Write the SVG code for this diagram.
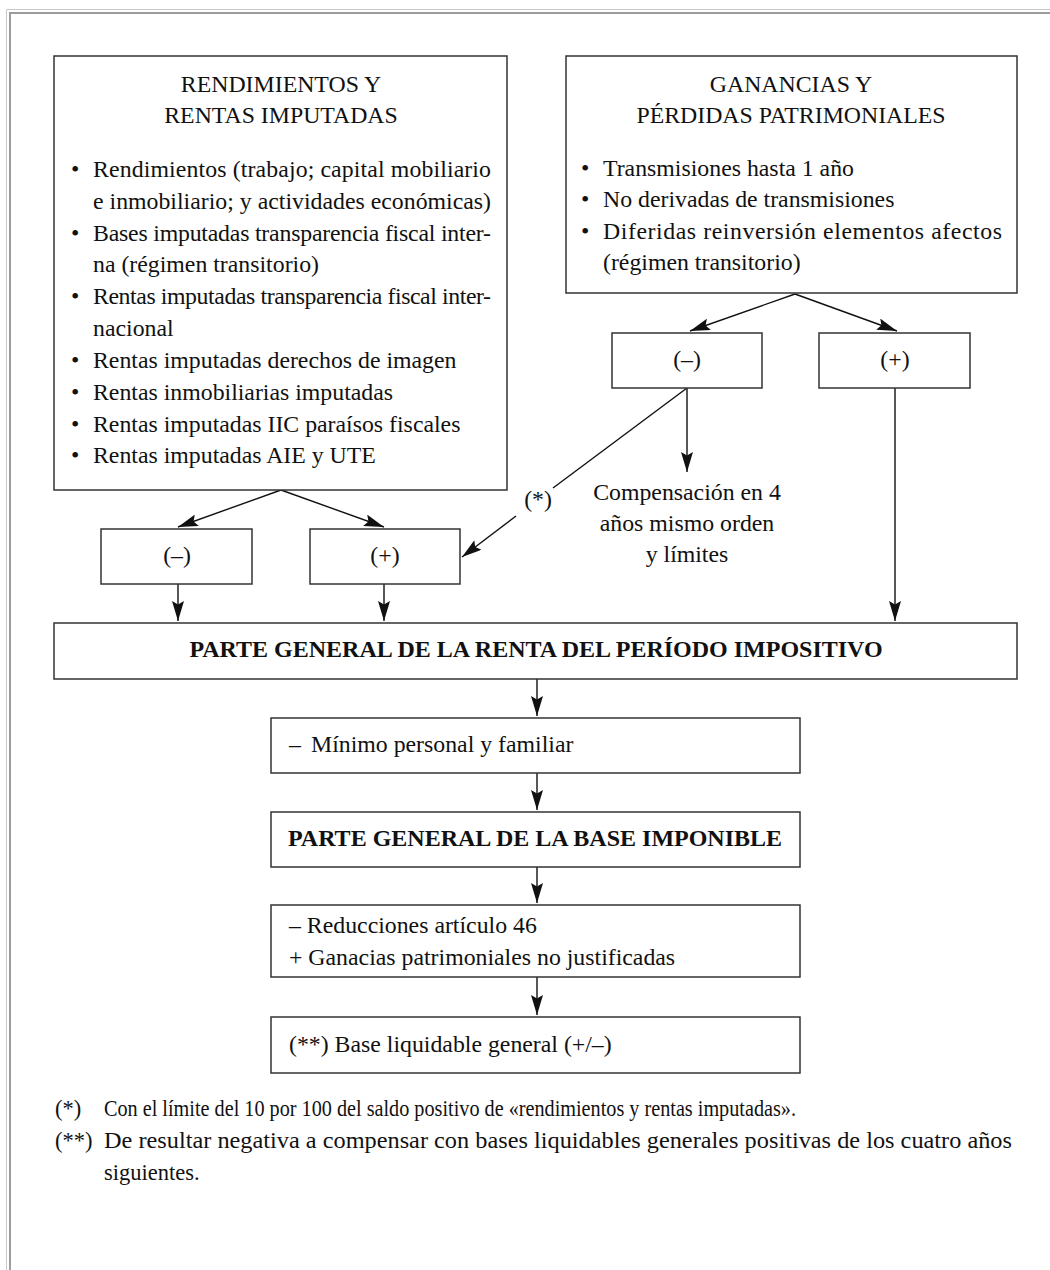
<svg xmlns="http://www.w3.org/2000/svg" width="1050" height="1270" viewBox="0 0 1050 1270">
<defs>
<style>
text{font-family:"Liberation Serif","Times New Roman",serif;font-size:23.8px;fill:#111}
.c{text-anchor:middle}
.b{font-weight:bold;font-size:24px}
.fn{font-size:22.5px}
.box{fill:#fff;stroke:#333;stroke-width:1.5}
.ln{stroke:#111;stroke-width:1.4;fill:none}
.ar{stroke:#111;stroke-width:1.4;fill:none;marker-end:url(#ah)}
</style>
<marker id="ah" viewBox="0 0 20 12" refX="20" refY="6" markerWidth="20" markerHeight="12" orient="auto" markerUnits="userSpaceOnUse">
<path d="M0,0 L20,6 L0,12 L3.5,6 Z" fill="#111"/>
</marker>
</defs>
<rect width="1050" height="1270" fill="#fff"/>
<g id="frame">
<path d="M6.5,1270 V9.5 H1050" fill="none" stroke="#c8c8c8" stroke-width="1"/>
<path d="M10,1270 V13 H1050" fill="none" stroke="#9c9c9c" stroke-width="2"/>
</g>
<g id="connectors">
<path class="ar" d="M281,490 L178,527"/>
<path class="ar" d="M281,490 L384,527"/>
<path class="ar" d="M795,294 L690,331"/>
<path class="ar" d="M795,294 L897,331"/>
<path class="ar" d="M687,388 L687,472"/>
<path class="ln" d="M687,388 L553,488"/>
<path class="ar" d="M516,516 L462,557"/>
<path class="ar" d="M895,388 L895,621"/>
<path class="ar" d="M178,584 L178,621"/>
<path class="ar" d="M384,584 L384,621"/>
<path class="ar" d="M537,679 L537,716"/>
<path class="ar" d="M537,773 L537,810"/>
<path class="ar" d="M537,867 L537,903"/>
<path class="ar" d="M537,977 L537,1015"/>
<text class="c" x="538" y="507">(*)</text>
</g>
<g id="rendimientos">
<rect class="box" x="54" y="56" width="453" height="434"/>
<text class="c" x="281" y="92">RENDIMIENTOS Y</text>
<text class="c" x="281" y="123">RENTAS IMPUTADAS</text>
<text x="71" y="177">•</text><text x="93" y="177" textLength="398" lengthAdjust="spacing">Rendimientos (trabajo; capital mobiliario</text>
<text x="93" y="209" textLength="398" lengthAdjust="spacing">e inmobiliario; y actividades económicas)</text>
<text x="71" y="241">•</text><text x="93" y="241" textLength="398" lengthAdjust="spacing">Bases imputadas transparencia fiscal inter-</text>
<text x="93" y="272">na (régimen transitorio)</text>
<text x="71" y="304">•</text><text x="93" y="304" textLength="398" lengthAdjust="spacing">Rentas imputadas transparencia fiscal inter-</text>
<text x="93" y="336">nacional</text>
<text x="71" y="368">•</text><text x="93" y="368">Rentas imputadas derechos de imagen</text>
<text x="71" y="400">•</text><text x="93" y="400">Rentas inmobiliarias imputadas</text>
<text x="71" y="432">•</text><text x="93" y="432">Rentas imputadas IIC paraísos fiscales</text>
<text x="71" y="463">•</text><text x="93" y="463">Rentas imputadas AIE y UTE</text>
</g>
<g id="ganancias">
<rect class="box" x="566" y="56" width="451" height="237"/>
<text class="c" x="791" y="92">GANANCIAS Y</text>
<text class="c" x="791" y="123">PÉRDIDAS PATRIMONIALES</text>
<text x="581" y="176">•</text><text x="603" y="176">Transmisiones hasta 1 año</text>
<text x="581" y="207">•</text><text x="603" y="207">No derivadas de transmisiones</text>
<text x="581" y="239">•</text><text x="603" y="239" textLength="399" lengthAdjust="spacing">Diferidas reinversión elementos afectos</text>
<text x="603" y="270">(régimen transitorio)</text>
</g>
<g id="gp-neg">
<rect class="box" x="612" y="333" width="150" height="55"/>
<text class="c" x="687" y="367">(–)</text>
</g>
<g id="gp-pos">
<rect class="box" x="819" y="333" width="151" height="55"/>
<text class="c" x="895" y="367">(+)</text>
</g>
<g id="compensacion">
<text class="c" x="687" y="500">Compensación en 4</text>
<text class="c" x="687" y="531">años mismo orden</text>
<text class="c" x="687" y="562">y límites</text>
</g>
<g id="rr-neg">
<rect class="box" x="101" y="529" width="151" height="55"/>
<text class="c" x="177" y="563">(–)</text>
</g>
<g id="rr-pos">
<rect class="box" x="310" y="529" width="150" height="55"/>
<text class="c" x="385" y="563">(+)</text>
</g>
<g id="parte-renta">
<rect class="box" x="54" y="623" width="963" height="56"/>
<text class="c b" x="536" y="657">PARTE GENERAL DE LA RENTA DEL PERÍODO IMPOSITIVO</text>
</g>
<g id="minimo">
<rect class="box" x="271" y="718" width="529" height="55"/>
<text x="289" y="752">–</text><text x="311" y="752">Mínimo personal y familiar</text>
</g>
<g id="parte-base">
<rect class="box" x="271" y="812" width="529" height="55"/>
<text class="c b" x="535" y="846">PARTE GENERAL DE LA BASE IMPONIBLE</text>
</g>
<g id="reducciones">
<rect class="box" x="271" y="905" width="529" height="72"/>
<text x="289" y="933">– Reducciones artículo 46</text>
<text x="289" y="965">+ Ganacias patrimoniales no justificadas</text>
</g>
<g id="base-liquidable">
<rect class="box" x="271" y="1017" width="529" height="56"/>
<text x="289" y="1052">(**) Base liquidable general (+/–)</text>
</g>
<g id="notas">
<text class="fn" x="55" y="1116">(*)</text>
<text class="fn" x="104" y="1116" textLength="692" lengthAdjust="spacingAndGlyphs">Con el límite del 10 por 100 del saldo positivo de «rendimientos y rentas imputadas».</text>
<text class="fn" x="55" y="1148">(**)</text>
<text class="fn" x="104" y="1148" textLength="908" lengthAdjust="spacingAndGlyphs">De resultar negativa a compensar con bases liquidables generales positivas de los cuatro años</text>
<text class="fn" x="104" y="1180">siguientes.</text>
</g>
</svg>
